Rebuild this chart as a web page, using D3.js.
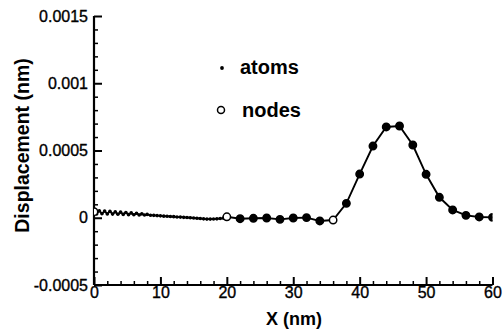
<!DOCTYPE html>
<html><head><meta charset="utf-8">
<script src="https://cdn.jsdelivr.net/npm/d3@7"></script>
<style>
html,body{margin:0;padding:0;background:#fff;}
svg{display:block;}
text{font-family:"Liberation Sans",Arial,Helvetica,sans-serif;fill:#000;}
</style></head><body>
<svg id="c" width="503" height="336"></svg>
<script>
// ---- data ----
const atomX = [0,0.4,0.8,1.2,1.6,2.0,2.4,2.8,3.2,3.6,4.0,4.4,4.8,5.2,5.6,6.0,6.4,6.8,7.2,7.6,8.0,
  8.5,9,9.5,10,10.5,11,11.5,12,12.5,13,13.5,14,14.5,15,15.5,16,16.5,17,17.5,18,18.5,19,19.5];
const atomY = [4.5e-5,2.8e-5,5.2e-5,3.0e-5,5.0e-5,2.8e-5,4.8e-5,2.7e-5,4.5e-5,2.6e-5,4.2e-5,2.5e-5,3.9e-5,2.3e-5,3.6e-5,2.2e-5,3.3e-5,2.1e-5,2.9e-5,2.0e-5,2.5e-5,
  1.9e-5,1.8e-5,1.6e-5,1.4e-5,1.2e-5,1.1e-5,0.9e-5,0.8e-5,0.6e-5,0.5e-5,0.3e-5,0.2e-5,0,-0.2e-5,-0.4e-5,-0.6e-5,-0.8e-5,-1.0e-5,-1.0e-5,-0.9e-5,-0.8e-5,-0.6e-5,-0.3e-5];
const nodeX = [0,20,22,24,26,28,30,32,34,36,38,40,42,44,46,48,50,52,54,56,58,60];
const nodeY = [4.5e-5,0.7e-5,-0.7e-5,-0.4e-5,-0.2e-5,-1.2e-5,-0.2e-5,0.1e-5,-2.4e-5,-1.7e-5,1.07e-4,3.25e-4,5.33e-4,6.75e-4,6.82e-4,5.41e-4,3.23e-4,1.52e-4,5.8e-5,1.8e-5,0.6e-5,0.3e-5];
const nodeOpen = [true,true,false,false,false,false,false,false,false,true,false,false,false,false,false,false,false,false,false,false,false,false];
const xTicks = [0,10,20,30,40,50,60];
const xMinor = [2,4,6,8,12,14,16,18,22,24,26,28,32,34,36,38,42,44,46,48,52,54,56,58];
const yTicks = [-0.0005,0,0.0005,0.001,0.0015];
const yTickLabels = ["-0.0005","0","0.0005","0.001","0.0015"];
const yMinor = [-0.0004,-0.0003,-0.0002,-0.0001,0.0001,0.0002,0.0003,0.0004,0.0006,0.0007,0.0008,0.0009,0.0011,0.0012,0.0013,0.0014];
const legendItems = ["atoms","nodes"];

// ---- chart ----
const svg = d3.select("#c");
const x = d3.scaleLinear().domain([0,60]).range([94,492.5]);
const y = d3.scaleLinear().domain([-0.0005,0.0015]).range([285,16]);

svg.append("defs").append("clipPath").attr("id","clip")
  .append("rect").attr("x",94).attr("y",0).attr("width",398.5).attr("height",285);

// axes
const ax = svg.append("g").attr("transform","translate(0,285)");
ax.call(d3.axisBottom(x).tickValues(xTicks).tickSize(-8).tickPadding(4).tickFormat(d3.format("d")));
ax.selectAll(".tick line").attr("stroke-width",2);
ax.selectAll("text").attr("font-size","16px").attr("dy","0.71em").attr("y",2);
const axm = svg.append("g").attr("transform","translate(0,285)");
axm.call(d3.axisBottom(x).tickValues(xMinor).tickSize(-4).tickFormat(""));
axm.select(".domain").remove();
axm.selectAll(".tick line").attr("stroke-width",1.5);

const ay = svg.append("g").attr("transform","translate(94,0)");
ay.call(d3.axisLeft(y).tickValues(yTicks).tickSize(-8).tickPadding(6).tickFormat((d,i)=>yTickLabels[i]));
ay.selectAll(".tick line").attr("stroke-width",2);
ay.selectAll("text").attr("font-size","16px");
const aym = svg.append("g").attr("transform","translate(94,0)");
aym.call(d3.axisLeft(y).tickValues(yMinor).tickSize(-4).tickFormat(""));
aym.select(".domain").remove();
aym.selectAll(".tick line").attr("stroke-width",1.5);

[ax,ay].forEach(g=>g.select(".domain").attr("stroke-width",2.2).attr("stroke","#000"));
svg.selectAll(".tick line").attr("stroke","#000");
[ax,ay].forEach(g=>g.selectAll("text").attr("stroke","#000").attr("stroke-width",0.35));
ax.select(".domain").attr("d",`M${x.range()[0]},0H${x.range()[1]}`);
ay.select(".domain").attr("d",`M0,${y.range()[0]}V${y.range()[1]}`);

// line
const lineData = atomX.map((d,i)=>[d,atomY[i]]).concat(nodeX.slice(1).map((d,i)=>[d,nodeY[i+1]]));
const plot = svg.append("g").attr("clip-path","url(#clip)");
plot.append("path").datum(lineData)
  .attr("d", d3.line().x(d=>x(d[0])).y(d=>y(d[1])))
  .attr("fill","none").attr("stroke","#000").attr("stroke-width",1.9);
plot.selectAll("circle.atom").data(atomX).enter().append("circle")
  .attr("cx",d=>x(d)).attr("cy",(d,i)=>y(atomY[i])).attr("r",1.8).attr("fill","#000");
plot.selectAll("circle.node").data(nodeX).enter().append("circle")
  .attr("cx",d=>x(d)).attr("cy",(d,i)=>y(nodeY[i])).attr("r",3.7)
  .attr("fill",(d,i)=>nodeOpen[i]?"#fff":"#000").attr("stroke","#000").attr("stroke-width",1.5);

// titles
svg.append("text").attr("x",294).attr("y",325).attr("text-anchor","middle")
  .attr("font-size","18px").attr("font-weight","bold").text("X (nm)");
svg.append("text").attr("transform","translate(29,145.5) rotate(-90)").attr("text-anchor","middle")
  .attr("font-size","19.5px").attr("font-weight","bold").text("Displacement (nm)");

// legend
svg.append("circle").attr("cx",222).attr("cy",68).attr("r",1.9).attr("fill","#000");
svg.append("text").attr("x",240).attr("y",73.5).attr("font-size","20px").attr("font-weight","bold").text(legendItems[0]);
svg.append("circle").attr("cx",221).attr("cy",110).attr("r",3.5).attr("fill","#fff").attr("stroke","#000").attr("stroke-width",1.5);
svg.append("text").attr("x",242).attr("y",116.5).attr("font-size","20px").attr("font-weight","bold").text(legendItems[1]);
</script>
</body></html>
